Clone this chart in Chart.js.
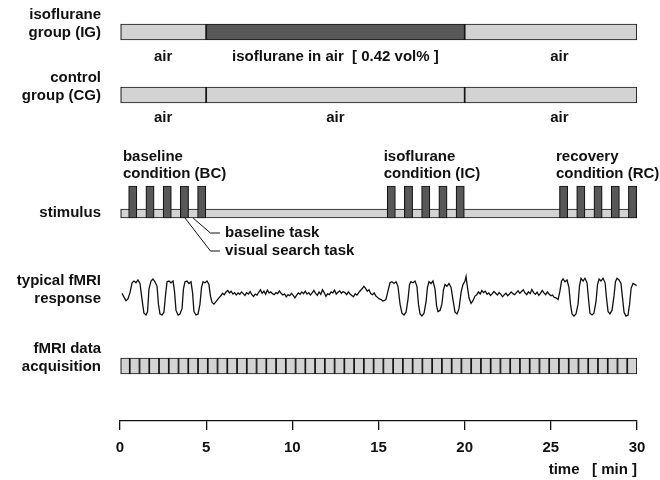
<!DOCTYPE html>
<html>
<head>
<meta charset="utf-8">
<script src="https://cdn.jsdelivr.net/npm/chart.js@4.4.1/dist/chart.umd.min.js"></script>
<style>
  html, body { margin: 0; padding: 0; background: #fff; }
  #wrap { width: 660px; height: 480px; }
</style>
</head>
<body>
<div id="wrap"><canvas id="chart"></canvas></div>
<script>
// time axis in minutes
var timeTicks = [0, 5, 10, 15, 20, 25, 30];

// gas delivery per group, [start, end] in min
var igSegments = [[0, 5], [5, 20], [20, 30]];
var igGas = ['air', 'iso', 'air'];
var igLabels = ['air', 'isoflurane in air  [ 0.42 vol% ]', 'air'];
var cgSegments = [[0, 5], [5, 20], [20, 30]];
var cgGas = ['air', 'air', 'air'];
var cgLabels = ['air', 'air', 'air'];
var segLabelAt = [2.5, 12.5, 25.5];

// visual search task blocks (onset, min) and their length
var taskOnsets = [0.5, 1.5, 2.5, 3.5, 4.5, 15.5, 16.5, 17.5, 18.5, 19.5, 25.5, 26.5, 27.5, 28.5, 29.5];
var taskLength = 0.48;

var conditionNames = [['baseline', 'condition (BC)'], ['isoflurane', 'condition (IC)'], ['recovery', 'condition (RC)']];
var conditionAt = [0.17, 15.3, 25.3];

// callouts: time the pointer starts from, label
var calloutFrom = [4.24, 3.77];
var calloutText = ['baseline task', 'visual search task'];

// number of fMRI volumes over the 30 min run
var scanCount = 53;

// typical fMRI response [time min, signal (0 = low plateau, 100 = high plateau)]
var fmriResponse = [
  [0.12, 62], [0.23, 51], [0.35, 41], [0.46, 46], [0.58, 64], [0.70, 92], [0.81, 97], [0.93, 92], [1.04, 100], [1.16, 90],
  [1.28, 44], [1.39, 5], [1.51, 0], [1.60, 10], [1.68, 74], [1.80, 97], [1.91, 103], [2.03, 95], [2.15, 82], [2.23, 31],
  [2.32, 3], [2.44, 0], [2.55, 8], [2.64, 56], [2.73, 95], [2.84, 97], [2.96, 92], [3.08, 97], [3.16, 69], [3.25, 13],
  [3.37, 0], [3.48, 3], [3.60, 18], [3.68, 74], [3.77, 95], [3.89, 97], [4.00, 90], [4.12, 95], [4.21, 64], [4.29, 10],
  [4.41, 0], [4.53, 3], [4.64, 31], [4.73, 79], [4.82, 95], [4.93, 92], [5.05, 97], [5.16, 87], [5.25, 54], [5.34, 36],
  [5.45, 31], [5.57, 38], [5.74, 49],
  [5.85, 55], [5.95, 62], [6.05, 58], [6.15, 66], [6.25, 70], [6.35, 63], [6.45, 68], [6.55, 60], [6.65, 64], [6.75, 57],
  [6.85, 63], [6.95, 59], [7.05, 66], [7.15, 61], [7.25, 56], [7.35, 64], [7.45, 60], [7.55, 67], [7.65, 58], [7.75, 53],
  [7.85, 60], [7.95, 57], [8.05, 65], [8.15, 72], [8.25, 62], [8.35, 68], [8.45, 59], [8.55, 71], [8.65, 63], [8.75, 66],
  [8.85, 61], [8.95, 58], [9.05, 64], [9.15, 61], [9.25, 69], [9.35, 62], [9.45, 57], [9.55, 60], [9.65, 52], [9.75, 58],
  [9.85, 55], [9.95, 62], [10.05, 56], [10.15, 49], [10.25, 57], [10.35, 63], [10.45, 59], [10.55, 66], [10.65, 61], [10.75, 68],
  [10.85, 60], [10.95, 64], [11.05, 57], [11.15, 63], [11.25, 70], [11.35, 62], [11.45, 56], [11.55, 66], [11.65, 59], [11.75, 72],
  [11.85, 64], [11.95, 53], [12.05, 61], [12.15, 58], [12.25, 66], [12.35, 63], [12.45, 71], [12.55, 60], [12.65, 65], [12.75, 69],
  [12.85, 62], [12.95, 67], [13.05, 64], [13.15, 58], [13.25, 66], [13.35, 60], [13.45, 56], [13.55, 52], [13.65, 61], [13.75, 57],
  [13.85, 64], [13.95, 70], [14.05, 75], [14.15, 82], [14.25, 76], [14.35, 68], [14.45, 72], [14.55, 61], [14.65, 58], [14.75, 63],
  [14.85, 54], [14.95, 50], [15.05, 46], [15.15, 44], [15.25, 40], [15.35, 42],
  [15.43, 44], [15.55, 69], [15.67, 92], [15.78, 95], [15.90, 90], [16.02, 95], [16.13, 82], [16.25, 31], [16.36, 5], [16.48, 0],
  [16.60, 8], [16.71, 44], [16.80, 87], [16.88, 95], [17.00, 92], [17.12, 97], [17.23, 82], [17.32, 31], [17.41, 3], [17.52, -3],
  [17.64, 5], [17.76, 38], [17.84, 79], [17.93, 95], [18.05, 90], [18.16, 97], [18.28, 74], [18.37, 26], [18.45, 10], [18.57, 13],
  [18.68, 31], [18.77, 72], [18.86, 87], [18.97, 82], [19.09, 90], [19.21, 79], [19.32, 44], [19.44, 8], [19.56, 3], [19.67, 18],
  [19.79, 64], [19.90, 87], [20.02, 97], [20.08, 110], [20.14, 87], [20.25, 49], [20.37, 33], [20.48, 41], [20.60, 54],
  [20.7, 58], [20.8, 66], [20.9, 60], [21.0, 70], [21.1, 64], [21.2, 68], [21.3, 59], [21.4, 63], [21.5, 56], [21.6, 61],
  [21.7, 67], [21.8, 62], [21.9, 57], [22.0, 64], [22.1, 59], [22.2, 52], [22.3, 58], [22.4, 62], [22.5, 55], [22.6, 60],
  [22.7, 66], [22.8, 61], [22.9, 58], [23.0, 64], [23.1, 69], [23.2, 62], [23.3, 67], [23.4, 72], [23.5, 63], [23.6, 58],
  [23.7, 66], [23.8, 61], [23.9, 73], [24.0, 64], [24.1, 59], [24.2, 65], [24.3, 56], [24.4, 62], [24.5, 70], [24.6, 63],
  [24.7, 58], [24.8, 66], [24.9, 60], [25.0, 55], [25.1, 57], [25.2, 50],
  [25.30, 49], [25.42, 44], [25.53, 69], [25.62, 97], [25.71, 103], [25.82, 95], [25.94, 100], [26.05, 79], [26.14, 31], [26.23, 3],
  [26.34, -3], [26.46, 3], [26.58, 31], [26.66, 82], [26.75, 105], [26.87, 97], [26.98, 105], [27.10, 92], [27.19, 44], [27.27, 5],
  [27.39, 0], [27.50, 5], [27.62, 38], [27.71, 87], [27.80, 103], [27.91, 97], [28.03, 105], [28.15, 92], [28.23, 49], [28.32, 10],
  [28.43, 3], [28.55, 13], [28.67, 56], [28.75, 95], [28.84, 105], [28.96, 100], [29.07, 90], [29.16, 49], [29.25, 8], [29.36, -3],
  [29.48, 0], [29.57, 31], [29.66, 77], [29.77, 90], [29.89, 87], [29.94, 85]
];

var rowLabels = [['isoflurane', 'group (IG)'], ['control', 'group (CG)'], ['stimulus'], ['typical fMRI', 'response'], ['fMRI data', 'acquisition']];

// ---- layout (vertical units of the plot, 0 at top) ----
var Y_MAX = 421;
var ROW = { ig: 32, igText: 57, cg: 95, cgText: 118, condTop: 157, condGap: 17,
            task: 202, stim: 213.5, stimBottom: 218, call: [233, 251],
            respHigh: 280, respLow: 315, acq: 366 };
var rowLabelY = [[15, 33], [78, 96], [213], [281, 299], [349, 367]];
var CALL_BEND = 5.25, CALL_END = 5.8, CALL_TEXT = 6.1;

var LIGHT = '#d3d3d3';
var DARK = '#585858';
var EDGE = '#151515';
var FONT = 'bold 15px "Liberation Sans", Arial, sans-serif';

// signal axis placed so 0 and 100 land on respLow / respHigh
var unitsPerSig = (ROW.respLow - ROW.respHigh) / 100;
var sigMax = ROW.respLow / unitsPerSig;
var sigMin = -(Y_MAX - ROW.respLow) / unitsPerSig;

function gasColor(g) { return g === 'iso' ? DARK : LIGHT; }

var scans = [];
for (var i = 0; i < scanCount; i++) {
    scans.push({ x: [i * 30 / scanCount, (i + 1) * 30 / scanCount], y: ROW.acq });
}

function barSet(data, colors, thick, axis, order) {
    return {
        type: 'bar', indexAxis: 'y', yAxisID: axis || 'y', xAxisID: 'x',
        data: data, backgroundColor: colors, borderColor: EDGE, borderWidth: 1.2,
        borderSkipped: false, grouped: false, barPercentage: 1, categoryPercentage: 1,
        maxBarThickness: thick, order: order || 5
    };
}

function lineSet(data, axis, width) {
    return {
        type: 'line', yAxisID: axis, xAxisID: 'x', data: data,
        borderColor: '#111', borderWidth: width, pointRadius: 0, tension: 0, fill: false, order: 0
    };
}

var callouts = calloutFrom.map(function (t, k) {
    return [{ x: t, y: ROW.stimBottom }, { x: CALL_BEND, y: ROW.call[k] }, { x: CALL_END, y: ROW.call[k] }];
});

// text drawn on top of the chart
var textPlugin = {
    id: 'diagramText',
    afterDraw: function (chart) {
        var ctx = chart.ctx, x = chart.scales.x, y = chart.scales.y;
        ctx.save();
        ctx.font = FONT;
        ctx.fillStyle = '#111';
        ctx.textBaseline = 'middle';
        ctx.textAlign = 'right';
        rowLabels.forEach(function (lines, r) {
            lines.forEach(function (s, k) {
                ctx.fillText(s, chart.chartArea.left - 19, y.getPixelForValue(rowLabelY[r][k]));
            });
        });
        ctx.textAlign = 'center';
        igLabels.forEach(function (s, k) {
            ctx.fillText(s, x.getPixelForValue(segLabelAt[k]), y.getPixelForValue(ROW.igText));
        });
        cgLabels.forEach(function (s, k) {
            ctx.fillText(s, x.getPixelForValue(segLabelAt[k]), y.getPixelForValue(ROW.cgText));
        });
        ctx.textAlign = 'left';
        conditionNames.forEach(function (lines, c) {
            lines.forEach(function (s, k) {
                ctx.fillText(s, x.getPixelForValue(conditionAt[c]), y.getPixelForValue(ROW.condTop + k * ROW.condGap));
            });
        });
        calloutText.forEach(function (s, k) {
            ctx.fillText(s, x.getPixelForValue(CALL_TEXT), y.getPixelForValue(ROW.call[k]));
        });
        ctx.restore();
    }
};

var noTicks = function (axis) { axis.ticks = []; };

new Chart(document.getElementById('chart'), {
    data: {
        datasets: [
            barSet(igSegments.map(function (s) { return { x: s, y: ROW.ig }; }), igGas.map(gasColor), 16),
            barSet(cgSegments.map(function (s) { return { x: s, y: ROW.cg }; }), cgGas.map(gasColor), 16),
            barSet(taskOnsets.map(function (t) { return { x: [t, t + taskLength], y: ROW.task }; }), DARK, 32, 'yb', 1),
            barSet([{ x: [0, 30], y: ROW.stim }], LIGHT, 9, 'y', 3),
            barSet(scans, LIGHT, 16),
            lineSet(fmriResponse.map(function (p) { return { x: p[0], y: p[1] }; }), 'yr', 1.3),
            lineSet(callouts[0], 'y', 1),
            lineSet(callouts[1], 'y', 1)
        ]
    },
    options: {
        responsive: true,
        maintainAspectRatio: false,
        animation: false,
        events: [],
        layout: { padding: { left: 120, right: 23, top: 0, bottom: 1 } },
        plugins: { legend: { display: false }, tooltip: { enabled: false } },
        scales: {
            x: {
                type: 'linear', position: 'bottom', min: 0, max: 30,
                afterBuildTicks: function (axis) { axis.ticks = timeTicks.map(function (v) { return { value: v }; }); },
                ticks: { color: '#111', font: { family: '"Liberation Sans", Arial, sans-serif', size: 15, weight: 'bold' }, padding: 9, maxRotation: 0 },
                grid: { drawOnChartArea: false, drawTicks: true, tickLength: 9, color: '#111', lineWidth: 1.3 },
                border: { display: true, color: '#111', width: 1.3 },
                title: { display: true, text: 'time   [ min ]', align: 'end', color: '#111',
                         font: { family: '"Liberation Sans", Arial, sans-serif', size: 15, weight: 'bold' }, padding: { top: -5, bottom: 0 } }
            },
            y: { type: 'linear', reverse: true, min: 0, max: Y_MAX, display: false, afterBuildTicks: noTicks },
            yb: { type: 'linear', reverse: true, min: 0, max: Y_MAX, display: false, afterBuildTicks: noTicks },
            yr: { type: 'linear', min: sigMin, max: sigMax, display: false, afterBuildTicks: noTicks }
        }
    },
    plugins: [textPlugin]
});
</script>
</body>
</html>
